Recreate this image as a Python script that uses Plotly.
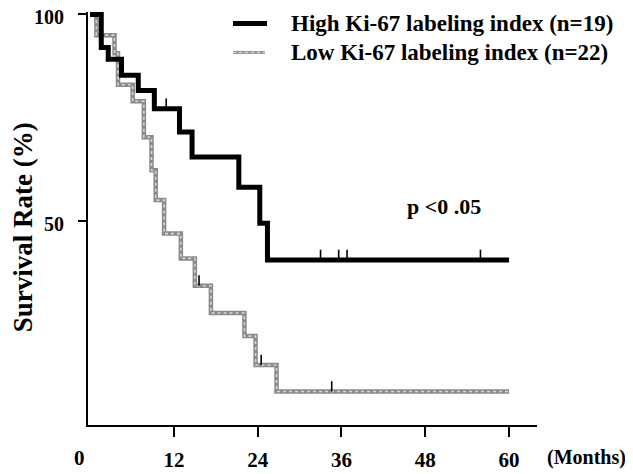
import plotly.graph_objects as go

# ---- data ----
series_names = ["High Ki-67 labeling index (n=19)", "Low Ki-67 labeling index (n=22)"]

high_times = [0, 1.6, 2.6, 4.5, 6.9, 9.2, 12.8, 14.6, 21.3, 24.3, 25.4, 60]
high_surv = [100, 92.0, 89.2, 85.3, 81.6, 77.2, 71.6, 65.5, 58.2, 49.5, 40.6, 40.6]
high_cens_t = [10.9, 33.0, 35.6, 36.8, 55.9]
high_cens_s = [77.2, 40.6, 40.6, 40.6, 40.6]

low_times = [0, 0.9, 3.5, 4.0, 6.1, 7.7, 8.8, 9.4, 10.6, 13.0, 15.0, 17.3, 22.1, 23.7, 26.7, 60]
low_surv = [100, 95.0, 90.6, 83.0, 79.0, 70.3, 62.3, 55.1, 47.0, 41.0, 34.4, 27.8, 22.2, 15.2, 8.8, 8.8]
low_cens_t = [15.6, 24.5, 34.6]
low_cens_s = [34.4, 15.2, 8.8]

x_ticks = [12, 24, 36, 48, 60]
y_ticks = [50, 100]
p_text = "p <0 .05"
p_pos = (50.7, 53.6)

FONT = "Liberation Serif"

# page geometry (the page body has an 8px margin)
PL, PR, PT, PB = 88, 537, 11.5, 425
PW, PH = PR - PL, PB - PT


def px(xp):
    return (xp - PL) / PW


def py(yp):
    return (PB - yp) / PH


fig = go.Figure()

# Low group: gray textured line (base + dotted light overlay)
fig.add_trace(go.Scatter(x=low_times, y=low_surv, mode="lines", line_shape="hv",
                         line=dict(color="#8a8a8a", width=4.5), showlegend=False, hoverinfo="skip"))
fig.add_trace(go.Scatter(x=low_times, y=low_surv, mode="lines", line_shape="hv",
                         line=dict(color="#d6d6d6", width=1.6, dash="dot"), showlegend=False, hoverinfo="skip"))
# High group: thick black
fig.add_trace(go.Scatter(x=high_times, y=high_surv, mode="lines", line_shape="hv",
                         line=dict(color="black", width=5), showlegend=False, hoverinfo="skip"))

# censor marks (small vertical ticks rising from the curve)
TICK_LEN = 2.5
for ct, cs in ((high_cens_t, high_cens_s), (low_cens_t, low_cens_s)):
    fig.add_trace(go.Scatter(x=ct, y=cs, mode="markers", marker=dict(size=0.1, color="black", opacity=0),
                             error_y=dict(type="data", symmetric=False, array=[TICK_LEN] * len(ct),
                                          arrayminus=[0] * len(ct), width=0, thickness=1.6, color="black"),
                             showlegend=False, hoverinfo="skip"))

# manual legend
leg_rows = [py(23), py(52)]
fig.add_shape(type="line", xref="paper", yref="paper", x0=px(233), x1=px(267),
              y0=leg_rows[0], y1=leg_rows[0], line=dict(color="black", width=5))
fig.add_shape(type="line", xref="paper", yref="paper", x0=px(233), x1=px(265),
              y0=leg_rows[1], y1=leg_rows[1], line=dict(color="#9a9a9a", width=3))
fig.add_shape(type="line", xref="paper", yref="paper", x0=px(233), x1=px(265),
              y0=leg_rows[1], y1=leg_rows[1], line=dict(color="#dddddd", width=1, dash="dot"))
for name, yy in zip(series_names, leg_rows):
    fig.add_annotation(text=name, xref="paper", yref="paper", x=px(289), y=yy,
                       xanchor="left", yanchor="middle", showarrow=False,
                       font=dict(family=FONT, size=23, color="black", weight="bold"))

fig.add_annotation(text=p_text, x=p_pos[0], y=p_pos[1], xref="x", yref="y", showarrow=False,
                   font=dict(family=FONT, size=22, color="black", weight="bold"))
fig.add_annotation(text="Survival Rate (%)", xref="paper", yref="paper", x=px(23),
                   y=py(227), textangle=-90, showarrow=False, xanchor="center", yanchor="middle",
                   font=dict(family=FONT, size=27, color="black", weight="bold"))
fig.add_annotation(text="0", xref="paper", yref="paper", x=px(79), y=py(458),
                   showarrow=False, xanchor="center", yanchor="middle",
                   font=dict(family=FONT, size=21, color="black", weight="bold"))
fig.add_annotation(text="(Months)", xref="paper", yref="paper", x=px(545), y=py(458),
                   showarrow=False, xanchor="left", yanchor="middle",
                   font=dict(family=FONT, size=20, color="black", weight="bold"))

fig.update_layout(
    width=625, height=466,
    margin=dict(l=PL - 8, r=633 - PR, t=PT - 8, b=474 - PB, autoexpand=False),
    plot_bgcolor="white", paper_bgcolor="white",
    showlegend=False,
    xaxis=dict(range=[-0.3, 64], tickvals=x_ticks, ticks="outside", ticklen=10, tickwidth=2,
               tickcolor="black", showline=True, linecolor="black", linewidth=1.8, showgrid=False,
               zeroline=False, ticklabelstandoff=5, automargin=False, ticklabeloverflow="allow",
               tickfont=dict(family=FONT, size=21, color="black", weight="bold")),
    yaxis=dict(range=[0.7, 100.6], tickvals=y_ticks, ticks="outside", ticklen=8, tickwidth=2,
               tickcolor="black", showline=True, linecolor="black", linewidth=1.8, showgrid=False,
               zeroline=False, ticklabelstandoff=10, automargin=False, ticklabeloverflow="allow",
               ticklabelshift=3,
               tickfont=dict(family=FONT, size=20, color="black", weight="bold")),
)

fig.write_html("out.html")
